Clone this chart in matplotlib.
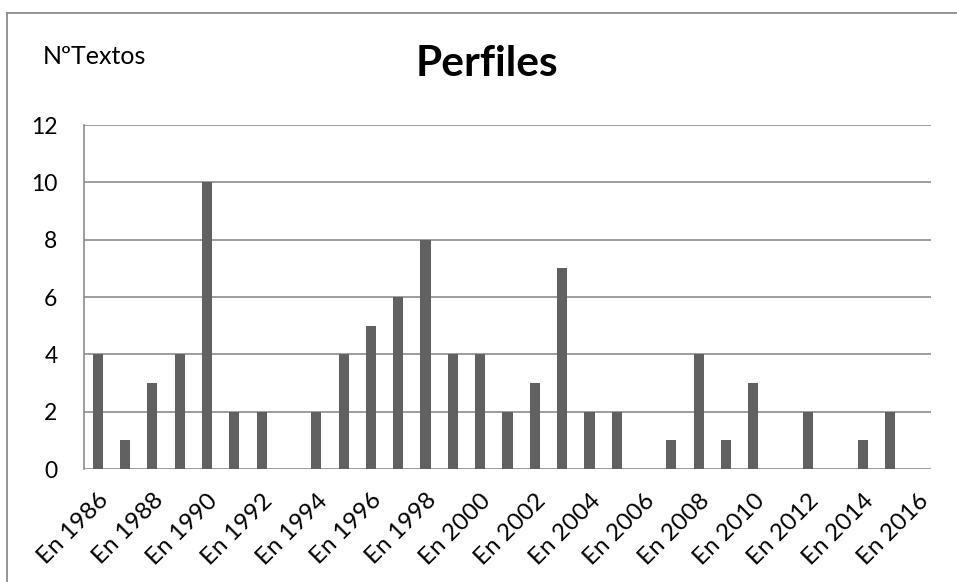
import matplotlib
matplotlib.use("Agg")
import matplotlib.pyplot as plt
from matplotlib.lines import Line2D

plt.rcParams['font.family'] = ['Lato', 'DejaVu Sans']

years = list(range(1986, 2017))
textos = [4, 1, 3, 4, 10, 2, 2, 0, 2, 4, 5, 6, 8, 4, 4, 2, 3, 7, 2, 2,
          0, 1, 4, 1, 3, 0, 2, 0, 1, 2, 0]
labels = ["En %d" % y for y in years]
yticks = [0, 2, 4, 6, 8, 10, 12]

W, H = 957, 582
fig = plt.figure(figsize=(W / 100, H / 100), dpi=100)
ax = fig.add_axes([84 / W, (H - 469) / H, (931 - 84) / W, (469 - 125) / H])

x = list(range(len(years)))
ax.bar(x, textos, width=0.37, color='#616161', zorder=3)

ax.set_xlim(-0.5, len(years) - 0.5)
ax.set_ylim(0, 12)
ax.set_yticks(yticks)
ax.set_yticklabels([str(v) for v in yticks], fontsize=16.5)
ax.set_xticks(x[::2])
ax.set_xticklabels(labels[::2], rotation=45, ha='right', rotation_mode='anchor', fontsize=17.5)
ax.tick_params(axis='y', length=0, pad=19)
ax.tick_params(axis='x', length=0, pad=15)

ax.grid(axis='y', color='#8c8c8c', linewidth=1.2, zorder=0)
for s in ['top', 'right', 'bottom']:
    ax.spines[s].set_visible(False)
ax.spines['left'].set_color('#8c8c8c')
ax.spines['left'].set_linewidth(1.2)

# chart title and axis caption
fig.text(487 / W, 1 - 64 / H, "Perfiles", fontsize=30.5, fontweight='bold', ha='center', va='center')
fig.text(43 / W, 1 - 56 / H, "NºTextos", fontsize=18, ha='left', va='center')

# outer frame (top and left only)
fig.add_artist(Line2D([7 / W, 1], [1 - 12.5 / H, 1 - 12.5 / H], color='#8c8c8c', linewidth=1.3))
fig.add_artist(Line2D([7.5 / W, 7.5 / W], [0, 1 - 12.5 / H], color='#8c8c8c', linewidth=1.3))

fig.savefig("out.png", dpi=100)
